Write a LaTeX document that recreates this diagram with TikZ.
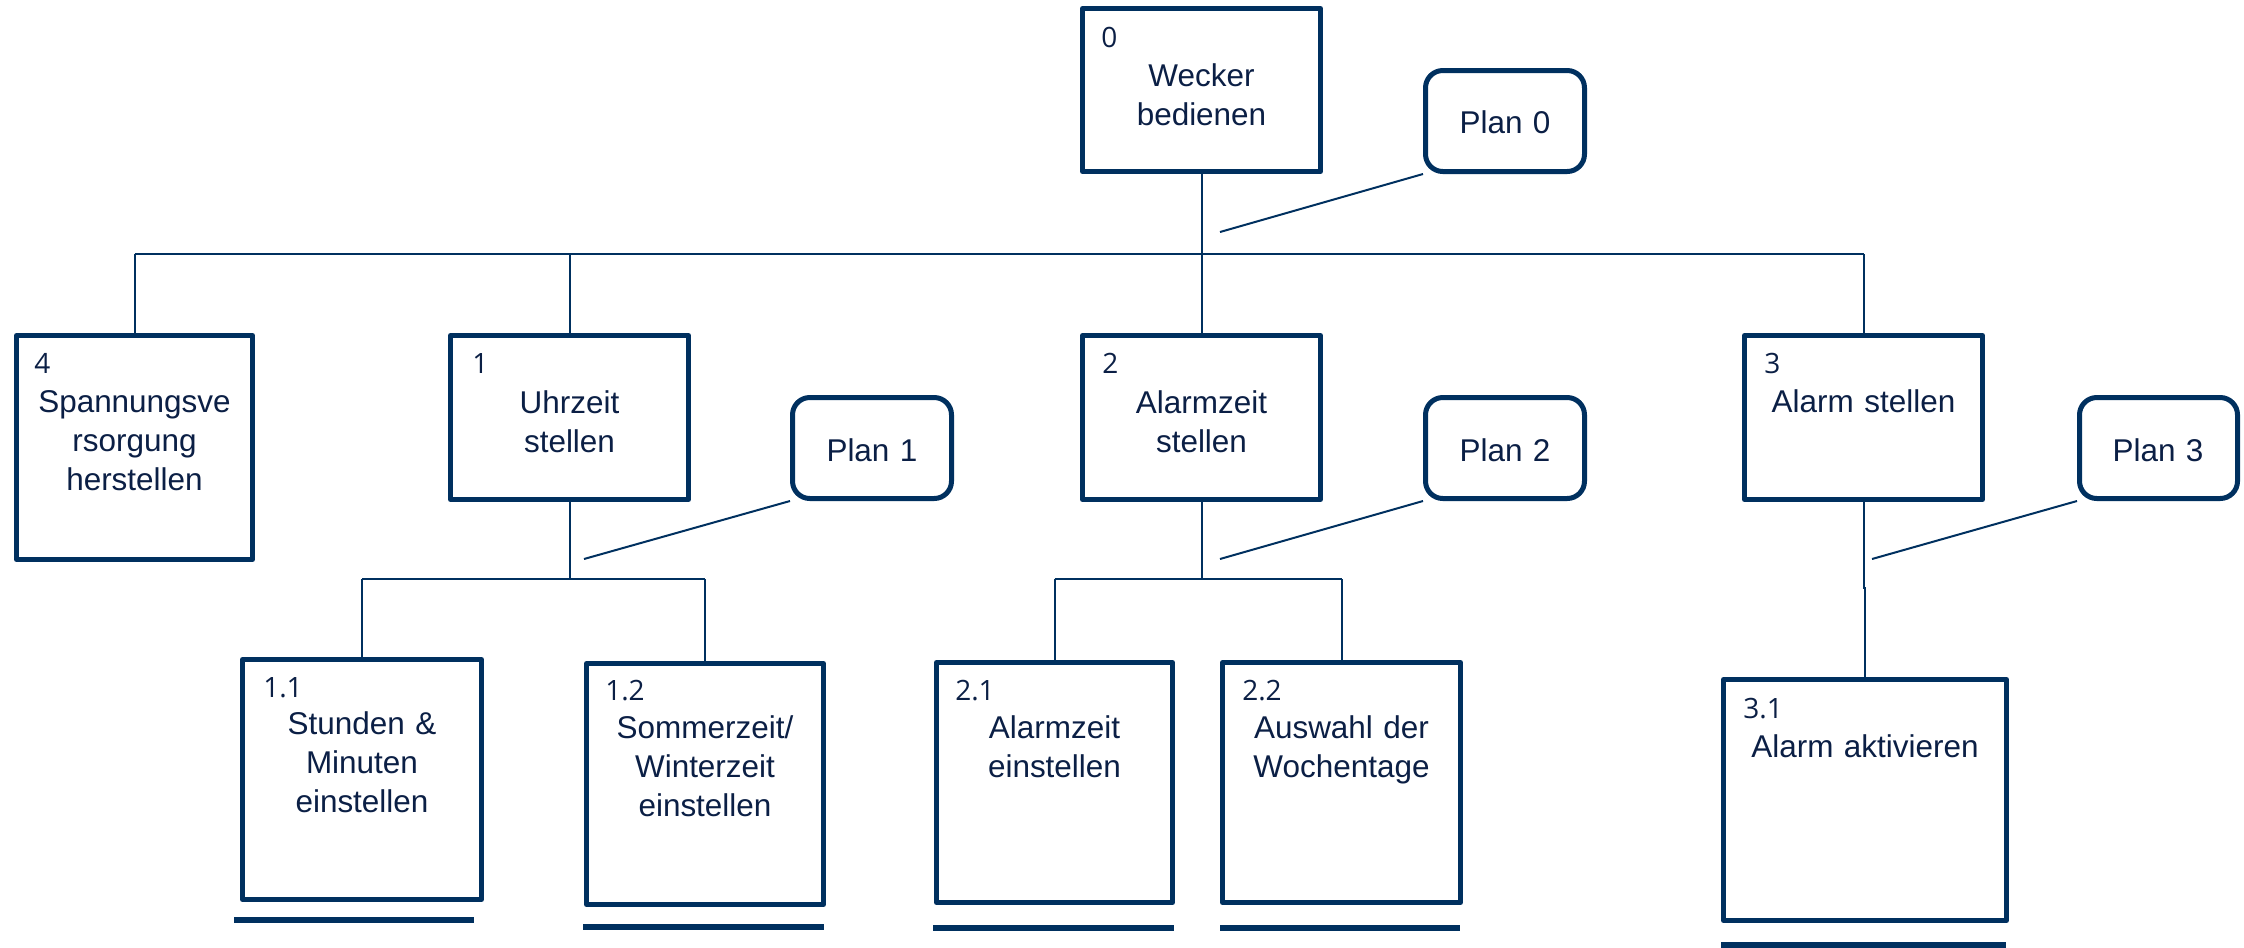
\documentclass[tikz,border=0pt]{standalone}
\usepackage{fontspec}
\setmainfont{Liberation Sans}
\newfontfamily\numfont{Open Sans}
\usetikzlibrary{fit}
\definecolor{navy}{HTML}{00305F}
\definecolor{ink}{HTML}{0B1F45}
\tikzset{
  taskbox/.style={draw=navy, line width=3.75bp, line join=round, inner sep=0pt},
  planbox/.style={draw=navy, line width=3.75bp, rounded corners=13bp, inner sep=0pt},
  link/.style={draw=navy, line width=1.5bp},
  underbar/.style={draw=navy, line width=4.5bp},
  num/.style={font=\numfont\fontsize{21bp}{25bp}\selectfont, text=ink, anchor=base west, inner sep=0pt},
  txt/.style={font=\fontsize{23.6bp}{29.25bp}\selectfont, text=ink, anchor=base, inner sep=0pt, align=center, text width=300bp}
}
\begin{document}
\begin{tikzpicture}[x=0.75bp, y=-0.75bp]
\useasboundingbox (0,0) rectangle (2244,947);

% task boxes
\node[taskbox, fit={(1082.5,8.5) (1320.5,171.5)}] (b0) {};
\node[taskbox, fit={(16.5,335.5) (252.5,559.5)}] (b4) {};
\node[taskbox, fit={(450.5,335.5) (688.5,499.5)}] (b1) {};
\node[taskbox, fit={(1082.5,335.5) (1320.5,499.5)}] (b2) {};
\node[taskbox, fit={(1744.5,335.5) (1982.5,499.5)}] (b3) {};
\node[taskbox, fit={(242.5,659.5) (481.5,899.5)}] (b11) {};
\node[taskbox, fit={(586.5,663.5) (823.5,904.5)}] (b12) {};
\node[taskbox, fit={(936.5,662.5) (1172.5,902.5)}] (b21) {};
\node[taskbox, fit={(1222.5,662.5) (1460.5,902.5)}] (b22) {};
\node[taskbox, fit={(1723.5,679.5) (2006.5,920.5)}] (b31) {};

% plan boxes
\node[planbox, fit={(1425.5,70.5) (1584.5,171.5)}] (p0) {};
\node[planbox, fit={(792.5,397.5) (951.5,498.5)}] (p1) {};
\node[planbox, fit={(1425.5,397.5) (1584.5,498.5)}] (p2) {};
\node[planbox, fit={(2079.5,397.5) (2237.5,498.5)}] (p3) {};

% numbers
\node[num] (n0) at (1101,47) {0};
\node[num] (n4) at (34,373) {4};
\node[num] (n1) at (472,373) {1};
\node[num] (n2) at (1102,373) {2};
\node[num] (n3) at (1764,373) {3};
\node[num] (n11) at (263,697) {1.1};
\node[num] (n12) at (605,700) {1.2};
\node[num] (n21) at (955,700) {2.1};
\node[num] (n22) at (1242,700) {2.2};
\node[num] (n31) at (1743,718) {3.1};

% task names
\node[txt] (t0) at (1201.5,86) {Wecker\\bedienen};
\node[txt] (t4) at (134.5,412) {Spannungsve\\rsorgung\\herstellen};
\node[txt] (t1) at (569.5,413) {Uhrzeit\\stellen};
\node[txt] (t2) at (1201.5,413) {Alarmzeit\\stellen};
\node[txt] (t3) at (1863.5,412) {Alarm stellen};
\node[txt] (t11) at (362,734) {Stunden \&\\Minuten\\einstellen};
\node[txt] (t12) at (705,738) {Sommerzeit/\\Winterzeit\\einstellen};
\node[txt] (t21) at (1054.5,738) {Alarmzeit\\einstellen};
\node[txt] (t22) at (1341.5,738) {Auswahl der\\Wochentage};
\node[txt] (t31) at (1865,757) {Alarm aktivieren};

% plan names
\node[txt] (tp0) at (1505,133) {Plan 0};
\node[txt] (tp1) at (872,461) {Plan 1};
\node[txt] (tp2) at (1505,461) {Plan 2};
\node[txt] (tp3) at (2158,461) {Plan 3};

% junctions
\coordinate (j0) at (1201.5,254);
\coordinate (j1) at (569.5,579);
\coordinate (j2) at (1201.5,579);
\coordinate (j3) at (1863.5,588);

% hierarchy: level 0 -> level 1
\draw[link] (b0.south) -- (j0);
\draw[link] (b4.north |- j0) -- (b3.north |- j0);
\draw[link] (b4.north) -- (b4.north |- j0);
\draw[link] (b1.north) -- (b1.north |- j0);
\draw[link] (b2.north) -- (b2.north |- j0);
\draw[link] (b3.north) -- (b3.north |- j0);

% level 1 -> level 2
\draw[link] (b1.south) -- (j1);
\draw[link] (b11.north |- j1) -- (b12.north |- j1);
\draw[link] (b11.north) -- (b11.north |- j1);
\draw[link] (b12.north) -- (b12.north |- j1);

\draw[link] (b2.south) -- (j2);
\draw[link] (b21.north |- j2) -- (b22.north |- j2);
\draw[link] (b21.north) -- (b21.north |- j2);
\draw[link] (b22.north) -- (b22.north |- j2);

\draw[link] (b3.south) -- (j3) -| (b31.north);

% plan pointers
\coordinate (c0) at (1220,232);
\coordinate (c1) at (584,559);
\coordinate (c2) at (1220,559);
\coordinate (c3) at (1872,559);
\draw[link] (p0.south west) -- (c0);
\draw[link] (p1.south west) -- (c1);
\draw[link] (p2.south west) -- (c2);
\draw[link] (p3.south west) -- (c3);

% bars under the leaf tasks
\draw[underbar] (234,920) -- (474,920);
\draw[underbar] (583,927) -- (824,927);
\draw[underbar] (933,928) -- (1174,928);
\draw[underbar] (1220,928) -- (1460,928);
\draw[underbar] (1721,945) -- (2006,945);
\end{tikzpicture}
\end{document}
